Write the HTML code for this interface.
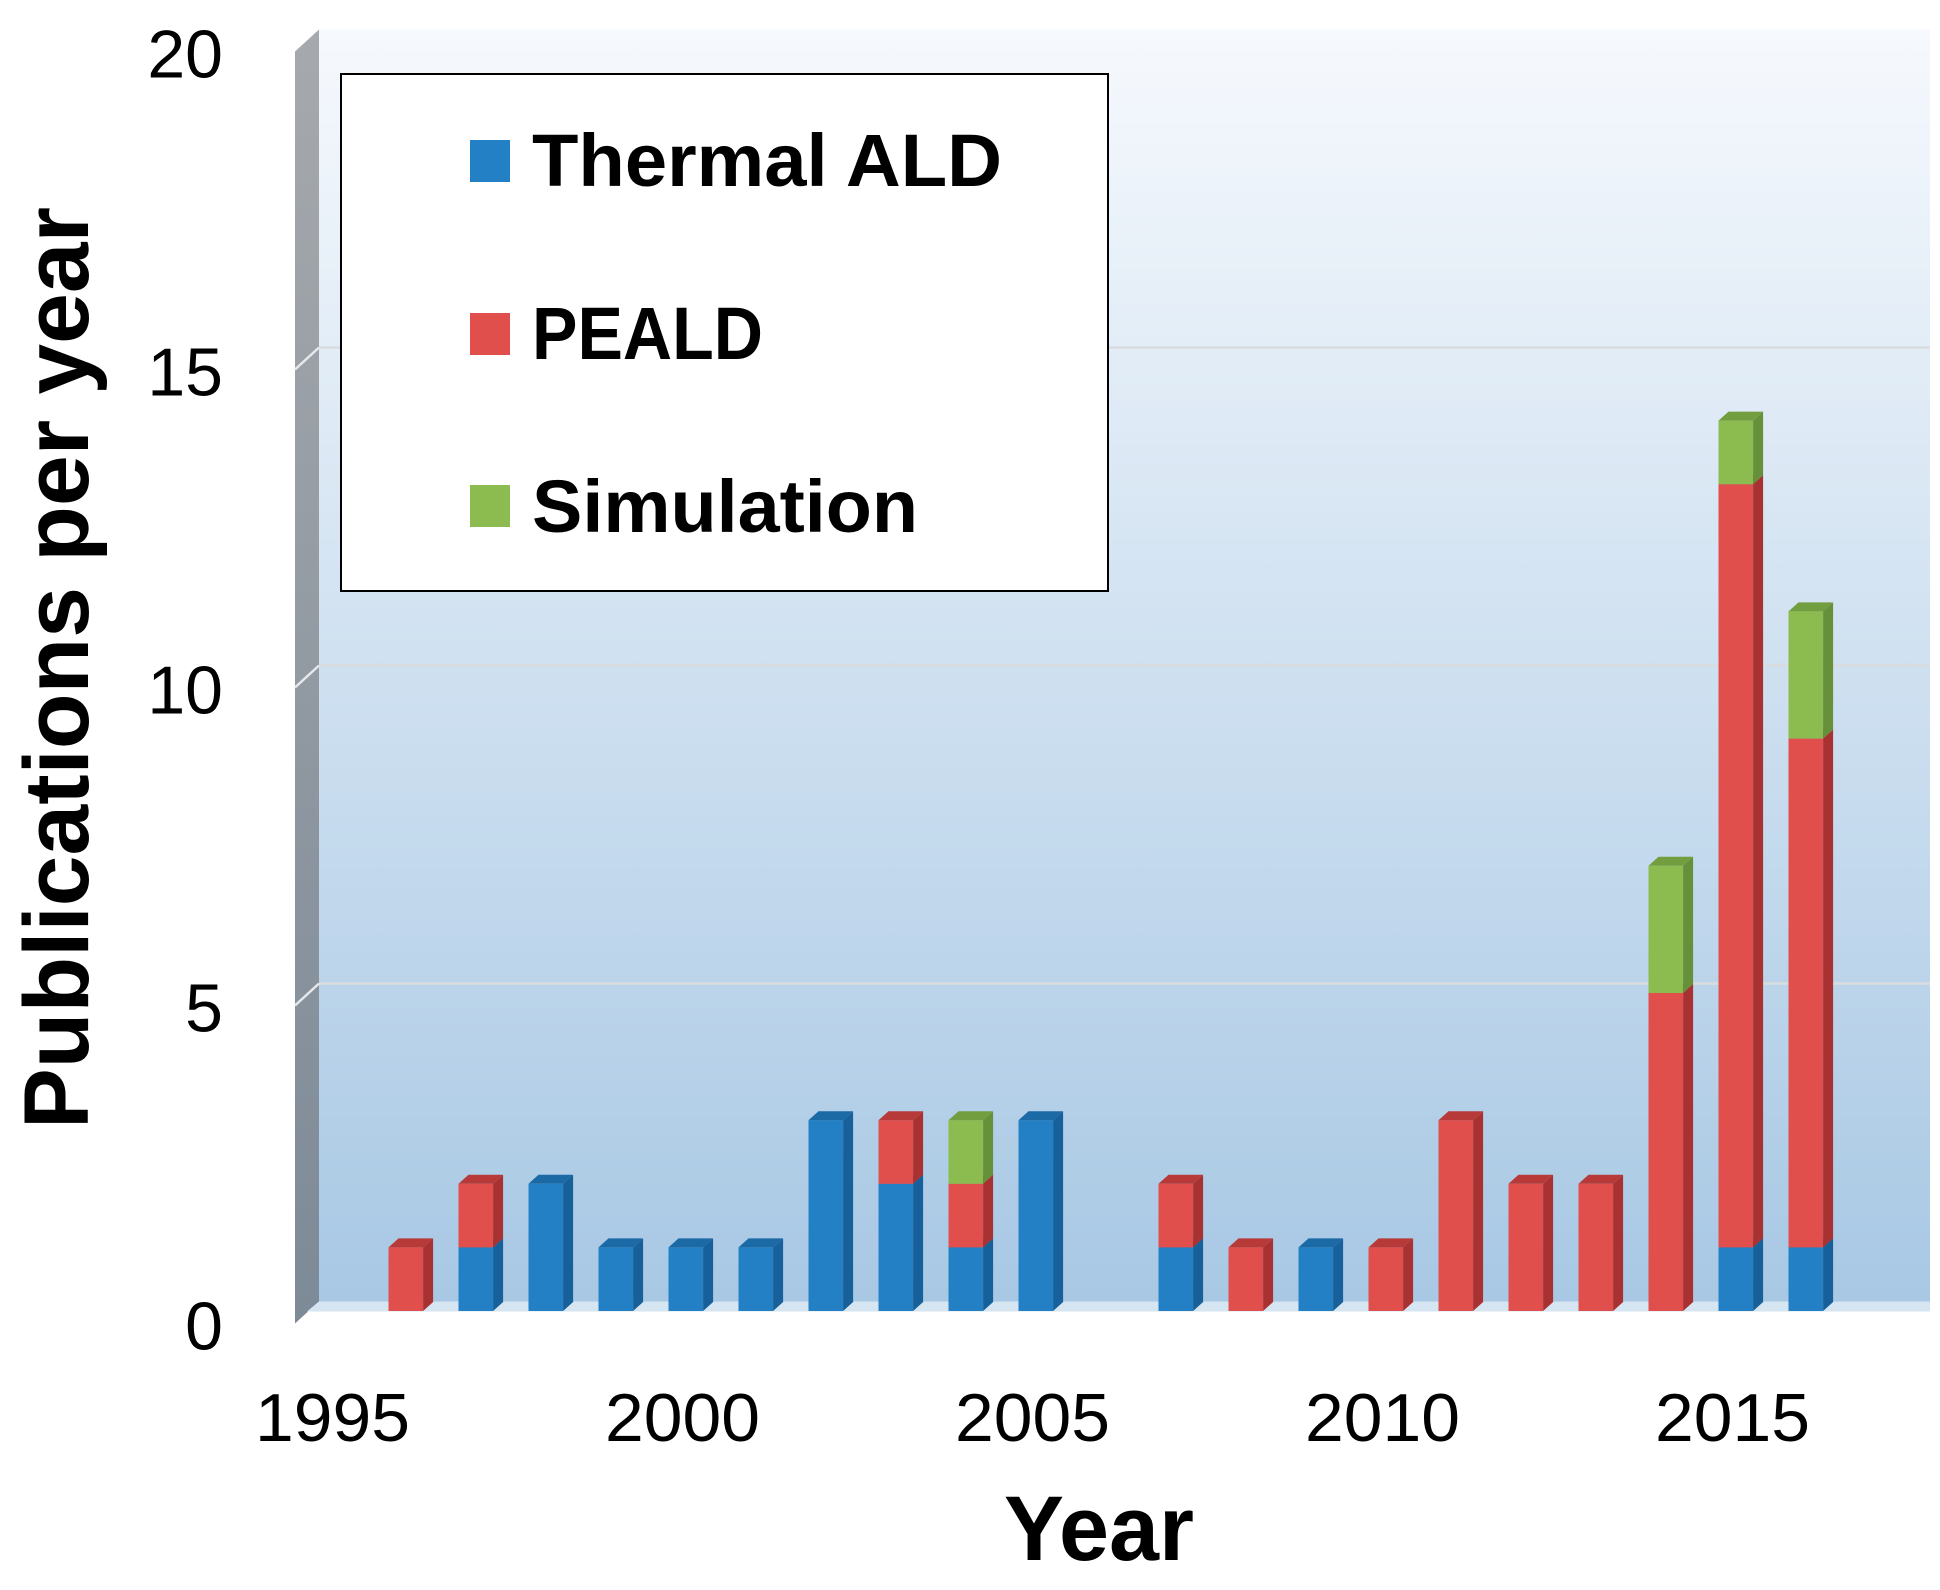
<!DOCTYPE html>
<html><head><meta charset="utf-8">
<style>body{margin:0;background:#fff}svg{display:block}text{font-family:"Liberation Sans",sans-serif}</style>
</head><body>
<svg id="chart" width="1940" height="1590" viewBox="0 0 1940 1590">
<defs>
<linearGradient id="wall" x1="0" y1="0" x2="0" y2="1"><stop offset="0" stop-color="#f6f9fd"/><stop offset="0.45" stop-color="#d3e3f2"/><stop offset="1" stop-color="#a8c8e4"/></linearGradient>
<linearGradient id="side" x1="0" y1="0" x2="0" y2="1"><stop offset="0" stop-color="#a6a9ad"/><stop offset="1" stop-color="#7d8a97"/></linearGradient>
</defs>
<g id="plot"></g>
<g id="legend">
<rect x="341" y="74" width="767" height="517" fill="#fff" stroke="#000" stroke-width="2"/>
<rect x="470" y="140" width="40" height="42" fill="#2380c4"/>
<text x="532" y="186" font-size="74" font-weight="bold" textLength="470" lengthAdjust="spacingAndGlyphs">Thermal ALD</text>
<rect x="470" y="313" width="40" height="42" fill="#e04f4c"/>
<text x="532" y="359" font-size="74" font-weight="bold" textLength="231" lengthAdjust="spacingAndGlyphs">PEALD</text>
<rect x="470" y="485" width="40" height="42" fill="#8cbb4f"/>
<text x="532" y="532" font-size="74" font-weight="bold" textLength="386" lengthAdjust="spacingAndGlyphs">Simulation</text>
</g>
<text x="56" y="668" font-size="92" font-weight="bold" text-anchor="middle" transform="rotate(-90 56 668)" dy="32" textLength="922" lengthAdjust="spacingAndGlyphs">Publications per year</text>
<text x="1099" y="1560" font-size="92" font-weight="bold" text-anchor="middle" textLength="190" lengthAdjust="spacingAndGlyphs">Year</text>
</svg>
<script>
const years = [1996,1997,1998,1999,2000,2001,2002,2003,2004,2005,2006,2007,2008,2009,2010,2011,2012,2013,2014,2015,2016];
const thermal = [0,1,2,1,1,1,3,2,1,3,0,1,0,1,0,0,0,0,0,1,1];
const peald   = [1,1,0,0,0,0,0,1,1,0,0,1,1,0,1,3,2,2,5,12,8];
const simulation = [0,0,0,0,0,0,0,0,1,0,0,0,0,0,0,0,0,0,2,1,2];
const yTicks = [0,5,10,15,20];
const xTicks = [1995,2000,2005,2010,2015];

const NS="http://www.w3.org/2000/svg";
const g=document.getElementById('plot');
const wallL=319, wallR=1930, floorBack=1301.5, floorFront=1311, unit=63.6;
const yBack=v=>floorBack-v*unit;
const yFront=v=>floorFront-v*unit;
const xBar=yr=>388.5+(yr-1996)*70.0;
const xLabel=yr=>388.5+17+(yr-1996)*70.0-3;
const bw=34.6, dx=10, dy=9;
function mk(tag,attrs){const e=document.createElementNS(NS,tag);for(const k in attrs)e.setAttribute(k,attrs[k]);g.appendChild(e);return e;}
let w=mk('rect',{x:wallL,y:yBack(20),width:wallR-wallL,height:floorBack-yBack(20),fill:'url(#wall)'});


let sw=mk('polygon',{points:`${wallL-24},${yBack(20)+22} ${wallL},${yBack(20)} ${wallL},${floorBack} ${wallL-24},${floorBack+22}`,fill:'url(#side)'});


let fl=mk('polygon',{points:`${wallL},${floorBack} ${wallR},${floorBack} ${wallR},${floorBack+10} ${wallL-12},${floorBack+10}`,fill:'#d6e5f2'});


yTicks.forEach(v=>{
  if(v>0&&v<20){
    let l=mk('line',{x1:wallL,x2:wallR,y1:yBack(v),y2:yBack(v),stroke:'#d9dcdf','stroke-width':2.5});
    
    
    let l2=mk('line',{x1:wallL-24,x2:wallL,y1:yBack(v)+22,y2:yBack(v),stroke:'#e6e8ea','stroke-width':2.5});
    
    
  }
  let t=mk('text',{x:223,y:yBack(v)+48,'font-size':68,'text-anchor':'end'});
  t.textContent=v;
  
  
});
xTicks.forEach(yr=>{
  let t=mk('text',{x:xLabel(yr),y:1441,'font-size':68,'text-anchor':'middle',textLength:155,lengthAdjust:'spacingAndGlyphs'});
  t.textContent=yr;
  
  
});
const series=[{d:thermal,f:'#2380c4',s:'#17609a',t:'#1b6aa6',n:'thermal'},{d:peald,f:'#e04f4c',s:'#a83232',t:'#b83a38',n:'peald'},{d:simulation,f:'#8cbb4f',s:'#66903a',t:'#739e40',n:'simulation'}];
years.forEach((yr,i)=>{
  let base=0;const x=xBar(yr);
  series.forEach(sr=>{
    const v=sr.d[i]; if(!v) return;
    const y0=yFront(base), y1=yFront(base+v);
    let r=mk('rect',{x:x,y:y1,width:bw,height:y0-y1,fill:sr.f});
    
    
    let s=mk('polygon',{points:`${x+bw},${y1} ${x+bw+dx},${y1-dy} ${x+bw+dx},${y0-dy} ${x+bw},${y0}`,fill:sr.s});
    
    
    let tp=mk('polygon',{points:`${x},${y1} ${x+dx},${y1-dy} ${x+bw+dx},${y1-dy} ${x+bw},${y1}`,fill:sr.t});
    
    
    base+=v;
  });
});
</script>
</body></html>
